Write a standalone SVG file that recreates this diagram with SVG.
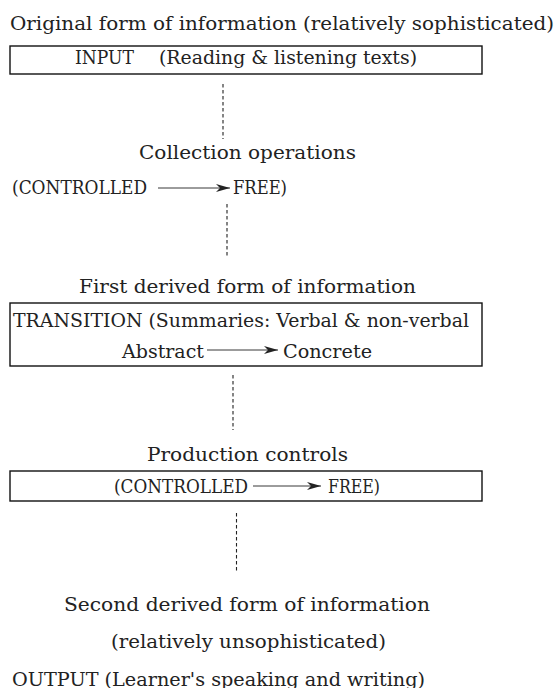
<svg xmlns="http://www.w3.org/2000/svg" width="558" height="688" viewBox="0 0 558 688">
  <style>
    .t { font-family: "DejaVu Serif", "Liberation Serif", serif; font-size: 19px; fill: #222; }
    .box { fill: none; stroke: #111; stroke-width: 1.4; }
    .dash { stroke: #222; stroke-width: 1.1; stroke-dasharray: 3.5 2.5; fill: none; }
    .arr { stroke: #222; stroke-width: 0.9; fill: none; marker-end: url(#head); }
  </style>
  <defs>
    <marker id="head" viewBox="0 0 14 8" refX="14" refY="4" markerWidth="14" markerHeight="8" markerUnits="userSpaceOnUse" orient="auto">
      <path d="M0,0 L14,4 L0,8 L4,4 z" fill="#222"/>
    </marker>
  </defs>

  <g id="input">
    <text class="t" x="10" y="30" textLength="544" lengthAdjust="spacingAndGlyphs">Original form of information (relatively sophisticated)</text>
    <rect class="box" x="10" y="46" width="472" height="28"/>
    <text class="t" x="75" y="64" textLength="59" lengthAdjust="spacingAndGlyphs">INPUT</text>
    <text class="t" x="159" y="64" textLength="258" lengthAdjust="spacingAndGlyphs">(Reading &amp; listening texts)</text>
  </g>

  <g id="collection">
    <text class="t" x="139" y="159" textLength="217" lengthAdjust="spacingAndGlyphs">Collection operations</text>
    <text class="t" x="12" y="194" textLength="135" lengthAdjust="spacingAndGlyphs">(CONTROLLED</text>
    <path class="arr" d="M158,188 H230"/>
    <text class="t" x="233" y="194" textLength="54" lengthAdjust="spacingAndGlyphs">FREE)</text>
  </g>

  <g id="transition">
    <text class="t" x="79" y="293" textLength="337" lengthAdjust="spacingAndGlyphs">First derived form of information</text>
    <rect class="box" x="10" y="303" width="472" height="63"/>
    <text class="t" x="13" y="327" textLength="456" lengthAdjust="spacingAndGlyphs">TRANSITION (Summaries: Verbal &amp; non-verbal</text>
    <text class="t" x="122" y="358" textLength="82" lengthAdjust="spacingAndGlyphs">Abstract</text>
    <path class="arr" d="M207,350 H278"/>
    <text class="t" x="283" y="358" textLength="89" lengthAdjust="spacingAndGlyphs">Concrete</text>
  </g>

  <g id="production">
    <text class="t" x="147" y="461" textLength="201" lengthAdjust="spacingAndGlyphs">Production controls</text>
    <rect class="box" x="10" y="471" width="472" height="30"/>
    <text class="t" x="114" y="493" textLength="134" lengthAdjust="spacingAndGlyphs">(CONTROLLED</text>
    <path class="arr" d="M253,486 H321"/>
    <text class="t" x="328" y="493" textLength="52" lengthAdjust="spacingAndGlyphs">FREE)</text>
  </g>

  <g id="output">
    <text class="t" x="64" y="611" textLength="366" lengthAdjust="spacingAndGlyphs">Second derived form of information</text>
    <text class="t" x="111" y="648" textLength="275" lengthAdjust="spacingAndGlyphs">(relatively unsophisticated)</text>
    <text class="t" x="12" y="686" textLength="413" lengthAdjust="spacingAndGlyphs">OUTPUT (Learner's speaking and writing)</text>
  </g>

  <g id="connectors">
    <line class="dash" x1="223" y1="84" x2="223" y2="139"/>
    <line class="dash" x1="227" y1="204" x2="227" y2="257"/>
    <line class="dash" x1="233" y1="375" x2="233" y2="430"/>
    <line class="dash" x1="236.5" y1="513" x2="236.5" y2="571"/>
  </g>
</svg>
